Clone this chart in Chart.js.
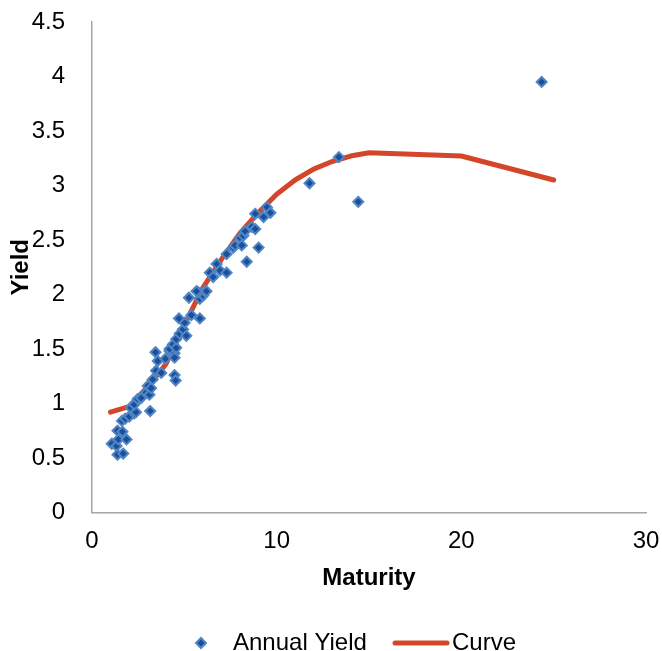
<!DOCTYPE html>
<html>
<head>
<meta charset="utf-8">
<script src="https://cdn.jsdelivr.net/npm/chart.js@4.4.1/dist/chart.umd.min.js"></script>
<style>
    html, body { margin: 0; padding: 0; background: #fff; }
    #wrap { width: 662px; height: 651px; }
</style>
</head>
<body>
<div id="wrap"><canvas id="grafico"></canvas></div>
<script>
// Puntos observados (vencimiento en años, rendimiento anual)
const maturity = [
    1.07, 1.33, 1.38, 1.69, 1.43, 1.87, 1.38, 1.65, 1.62, 1.80,
    2.02, 2.10, 2.29, 2.38, 2.29, 2.47, 2.66, 2.93, 3.11, 3.15,
    3.02, 3.20, 3.29, 3.47, 3.75, 3.56, 3.98, 3.44, 4.20, 4.47,
    4.47, 4.47, 4.53, 4.20, 4.38, 4.56, 4.56, 4.75, 4.93, 5.11,
    5.02, 4.71, 5.38, 5.84, 5.25, 5.84, 6.02, 5.75, 6.11, 5.66,
    6.20, 6.38, 6.56, 6.75, 6.93, 7.29, 7.29, 7.65, 7.75, 8.02,
    8.11, 8.20, 8.29, 8.38, 8.66, 8.84, 8.84, 9.02, 9.29, 9.47,
    9.66, 11.78, 13.37, 14.42, 24.35
];
const annualYield = [
    0.63, 0.61, 0.53, 0.54, 0.67, 0.67, 0.75, 0.74, 0.84, 0.86,
    0.88, 0.96, 0.91, 0.92, 0.99, 1.04, 1.05, 1.10, 1.08, 0.93,
    1.16, 1.14, 1.22, 1.30, 1.28, 1.39, 1.41, 1.47, 1.48, 1.46,
    1.42, 1.26, 1.21, 1.50, 1.54, 1.51, 1.59, 1.64, 1.68, 1.62,
    1.74, 1.78, 1.81, 1.78, 1.97, 1.96, 1.99, 2.02, 2.03, 2.03,
    2.03, 2.20, 2.16, 2.28, 2.22, 2.20, 2.37, 2.43, 2.45, 2.52,
    2.45, 2.54, 2.58, 2.30, 2.62, 2.60, 2.74, 2.43, 2.71, 2.80,
    2.75, 3.02, 3.26, 2.85, 3.95
];

// Curva ajustada
const curveMaturity = [1, 2, 3, 4, 5, 6, 7, 8, 9, 10, 11, 12, 13, 14, 15, 20, 25];
const curveYield = [0.92, 0.97, 1.15, 1.36, 1.72, 2.06, 2.32, 2.56, 2.75, 2.92, 3.05, 3.15, 3.22, 3.27, 3.30, 3.27, 3.05];

const xTicks = [0, 10, 20, 30];

const fuente = "'Liberation Sans', Arial, sans-serif";
const colorPuntos = '#1d4f99';
const bordePuntos = '#4f86c6';
const colorCurva = '#d4462a';

// Leyenda dibujada a mano para imitar la de Excel
const pluginLeyenda = {
    id: 'leyenda',
    afterDraw: (chart) => {
        const ctx = chart.ctx;
        const y = 643;
        ctx.save();
        // rombo
        ctx.fillStyle = colorPuntos;
        ctx.strokeStyle = bordePuntos;
        ctx.lineWidth = 2;
        ctx.beginPath();
        ctx.moveTo(201, y - 5);
        ctx.lineTo(206, y);
        ctx.lineTo(201, y + 5);
        ctx.lineTo(196, y);
        ctx.closePath();
        ctx.fill();
        ctx.stroke();
        // línea
        ctx.strokeStyle = colorCurva;
        ctx.lineWidth = 5;
        ctx.lineCap = 'round';
        ctx.beginPath();
        ctx.moveTo(395, y);
        ctx.lineTo(447, y);
        ctx.stroke();
        // textos
        ctx.fillStyle = '#000';
        ctx.font = '24px ' + fuente;
        ctx.textBaseline = 'middle';
        ctx.fillText('Annual Yield', 233, y);
        ctx.fillText('Curve', 452, y);
        ctx.restore();
    }
};

const ctx = document.getElementById('grafico').getContext('2d');

new Chart(ctx, {
    type: 'scatter',
    data: {
        datasets: [
            {
                label: 'Annual Yield',
                data: maturity.map((m, i) => ({ x: m, y: annualYield[i] })),
                pointStyle: 'rectRot',
                pointRadius: 5,
                pointHoverRadius: 5,
                backgroundColor: colorPuntos,
                borderColor: bordePuntos,
                borderWidth: 2,
                order: 1
            },
            {
                label: 'Curve',
                type: 'line',
                data: curveMaturity.map((m, i) => ({ x: m, y: curveYield[i] })),
                borderColor: colorCurva,
                borderWidth: 5,
                pointRadius: 0,
                fill: false,
                tension: 0,
                borderCapStyle: 'round',
                borderJoinStyle: 'round',
                order: 2
            }
        ]
    },
    options: {
        responsive: true,
        maintainAspectRatio: false,
        animation: false,
        layout: { padding: { top: 22, right: 16, bottom: 58, left: 0 } },
        plugins: {
            legend: { display: false },
            tooltip: { enabled: false }
        },
        scales: {
            x: {
                type: 'linear',
                min: 0,
                max: 30,
                afterBuildTicks: (axis) => { axis.ticks = xTicks.map(v => ({ value: v })); },
                afterFit: (axis) => { axis.paddingRight = 0; },
                grid: { display: false },
                border: { display: true, color: '#a6a6a6', width: 1.5 },
                ticks: { color: '#000', padding: 7, font: { family: fuente, size: 24 }, maxRotation: 0 },
                title: {
                    display: true,
                    text: 'Maturity',
                    color: '#000',
                    font: { family: fuente, size: 24, weight: 'bold' },
                    padding: { top: 1, bottom: 0 }
                }
            },
            y: {
                min: 0,
                max: 4.5,
                afterFit: (axis) => {
                    axis.width = 92;
                    axis.paddingTop = 0;
                    axis.paddingBottom = 0;
                },
                grid: { display: false },
                border: { display: true, color: '#a6a6a6', width: 1.5 },
                ticks: {
                    stepSize: 0.5,
                    color: '#000',
                    padding: 19,
                    font: { family: fuente, size: 24 },
                    callback: (v) => String(Math.round(v * 10) / 10)
                },
                title: {
                    display: true,
                    text: 'Yield',
                    color: '#000',
                    font: { family: fuente, size: 24, weight: 'bold' },
                    padding: { top: 7, bottom: 0 }
                }
            }
        }
    },
    plugins: [pluginLeyenda]
});
</script>
</body>
</html>
